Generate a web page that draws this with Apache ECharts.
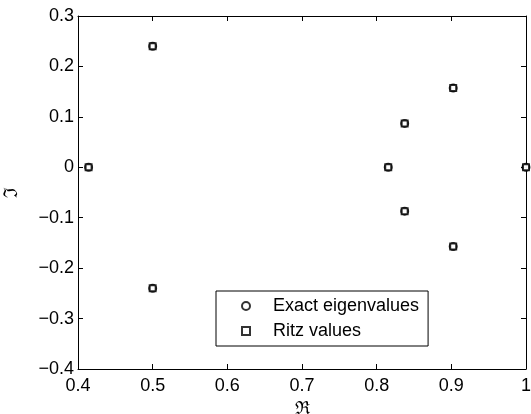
<!DOCTYPE html>
<html>
<head>
<meta charset="utf-8">
<script src="https://cdn.jsdelivr.net/npm/echarts@6/dist/echarts.min.js"></script>
<style>
  html, body { margin: 0; padding: 0; background: #fff; }
  #chart { width: 531px; height: 414px; }
</style>
</head>
<body>
<div id="chart"></div>
<script>
// eigenvalues in the complex plane: [real, imag]
const exactEigenvalues = [
  [0.4142, 0], [0.5, 0.24], [0.5, -0.24],
  [0.8155, 0], [0.8375, 0.087], [0.8375, -0.087],
  [0.9025, 0.157], [0.9025, -0.157], [1.0, 0]
]
const ritzValues = [
  [0.4142, 0], [0.5, 0.24], [0.5, -0.24],
  [0.8155, 0], [0.8375, 0.087], [0.8375, -0.087],
  [0.9025, 0.157], [0.9025, -0.157], [1.0, 0]
]
const xTicks = { min: 0.4, max: 1.0, step: 0.1 }
const yTicks = { min: -0.4, max: 0.3, step: 0.1 }

const font = "'Liberation Sans', Arial, Helvetica, sans-serif"

function tickLabel(v) {
  const s = String(Math.round(v * 10) / 10)
  return s.replace('-', '\u2212')
}

const baseAxis = {
  type: 'value',
  axisLine: { show: true, onZero: false, lineStyle: { color: '#000', width: 1 } },
  axisTick: { show: true, inside: true, length: 5, lineStyle: { color: '#000', width: 1 } },
  splitLine: { show: false },
}

const chart = echarts.init(document.getElementById('chart'), null, { renderer: 'canvas' })

chart.setOption({
  animation: false,
  backgroundColor: '#fff',
  textStyle: { fontFamily: font },
  // outerBoundsMode none: keep the grid exactly where it is put (v6 otherwise shrinks it for labels)
  grid: { left: 78, right: 5, top: 16, bottom: 45, containLabel: false, outerBoundsMode: 'none' },
  xAxis: [
    {
      ...baseAxis,
      position: 'bottom',
      min: xTicks.min, max: xTicks.max, interval: xTicks.step,
      axisLabel: { color: '#000', fontSize: 18, fontFamily: font, margin: 8, formatter: tickLabel },
      name: '\u211C',
      nameLocation: 'middle',
      nameGap: 25,
      nameTextStyle: { color: '#000', fontSize: 18, fontFamily: "'DejaVu Serif', serif" },
    },
    {
      ...baseAxis,
      position: 'top',
      min: xTicks.min, max: xTicks.max, interval: xTicks.step,
      axisLabel: { show: false },
    },
  ],
  yAxis: [
    {
      ...baseAxis,
      position: 'left',
      min: yTicks.min, max: yTicks.max, interval: yTicks.step,
      axisLabel: { color: '#000', fontSize: 18, fontFamily: font, margin: 4, formatter: tickLabel },
      name: '\u2111',
      nameLocation: 'middle',
      nameGap: 56,
      nameRotate: 90,
      nameTextStyle: { color: '#000', fontSize: 19, fontFamily: "'DejaVu Serif', serif" },
    },
    {
      ...baseAxis,
      position: 'right',
      min: yTicks.min, max: yTicks.max, interval: yTicks.step,
      axisLabel: { show: false },
    },
  ],
  legend: {
    orient: 'vertical',
    left: 216,
    top: 291,
    padding: [6, 9, 6, 25],
    itemGap: 7,
    itemWidth: 8,
    itemHeight: 8,
    backgroundColor: '#fff',
    borderColor: '#000',
    borderWidth: 1,
    borderRadius: 0,
    itemStyle: { borderWidth: 1 },
    textStyle: { color: '#000', fontSize: 18, fontFamily: font, lineHeight: 18, padding: [0, 0, 0, 18] },
    data: ['Exact eigenvalues', 'Ritz values'],
  },
  series: [
    {
      name: 'Exact eigenvalues',
      type: 'scatter',
      symbol: 'emptyCircle',
      symbolSize: 7,
      clip: false,
      itemStyle: { color: '#000', borderColor: '#000', borderWidth: 0.8 },
      data: exactEigenvalues,
    },
    {
      name: 'Ritz values',
      type: 'scatter',
      symbol: 'emptyRect',
      symbolSize: 6,
      clip: false,
      itemStyle: { color: '#000', borderColor: '#000', borderWidth: 0.8 },
      data: ritzValues,
    },
  ],
})
</script>
</body>
</html>
